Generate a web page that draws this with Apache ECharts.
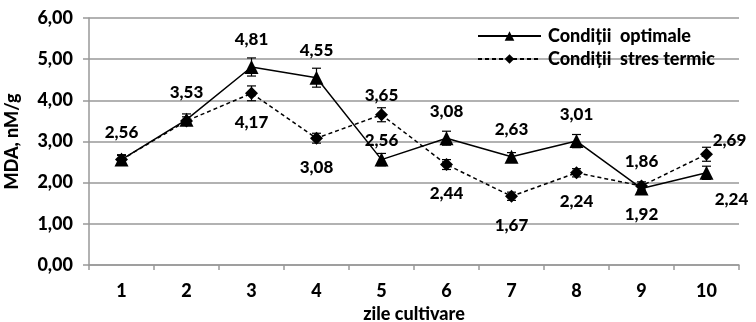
<!DOCTYPE html>
<html>
<head>
<meta charset="utf-8">
<script src="https://cdn.jsdelivr.net/npm/echarts@6/dist/echarts.min.js"></script>
<style>html,body{margin:0;padding:0;background:#fff}#c{width:756px;height:322px}</style>
</head>
<body>
<div id="c"></div>
<script>
// ---- data ----
const categories = ['1','2','3','4','5','6','7','8','9','10'];
const optimal = [2.56, 3.53, 4.81, 4.55, 2.56, 3.08, 2.63, 3.01, 1.86, 2.24];
const stress  = [2.56, 3.50, 4.17, 3.08, 3.65, 2.44, 1.67, 2.24, 1.92, 2.69];
const optimalErr = [0.12, 0.14, 0.22, 0.23, 0.15, 0.17, 0.10, 0.16, 0.10, 0.16];
const stressErr  = [0.10, 0.10, 0.18, 0.12, 0.17, 0.12, 0.10, 0.10, 0.10, 0.17];
const yTicks = [0, 1, 2, 3, 4, 5, 6];
const seriesNames = ['Condiții  optimale', 'Condiții  stres termic'];

// ---- label placement (style, separate from values) ----
const optLabelPlace = ['up','up','up','up','upNear','up','up','up','up','rightDown'];
const stressLabelPlace = ['none','none','down','down','upNear','down','down','down','down','rightUp'];
const placeOffsets = {
  up: [0, -27], upNear: [0, -19], down: [0, 29],
  rightDown: [25, 27], rightUp: [23, -14]
};

const FONT = 'Lato';
const W = 900;
const fmt = v => v.toFixed(2).replace('.', ',');

function buildLine(values, places) {
  return values.map((v, i) => {
    const p = places[i];
    if (p === 'none') return { value: v, label: { show: false } };
    return { value: v, label: { show: true, position: 'inside', offset: placeOffsets[p] } };
  });
}

function errData(values, errs) {
  return values.map((v, i) => [i, v, errs[i]]);
}

function errRender(params, api) {
  const x = api.value(0), v = api.value(1), e = api.value(2);
  const hi = api.coord([x, v + e]);
  const lo = api.coord([x, v - e]);
  const hw = 4.5;
  const st = { stroke: '#000', lineWidth: 1.2 };
  return {
    type: 'group',
    children: [
      { type: 'line', shape: { x1: hi[0], y1: hi[1], x2: lo[0], y2: lo[1] }, style: st },
      { type: 'line', shape: { x1: hi[0] - hw, y1: hi[1], x2: hi[0] + hw, y2: hi[1] }, style: st },
      { type: 'line', shape: { x1: lo[0] - hw, y1: lo[1], x2: lo[0] + hw, y2: lo[1] }, style: st }
    ]
  };
}

const chart = echarts.init(document.getElementById('c'), null, { renderer: 'canvas' });
const labelStyle = {
  color: '#000', fontFamily: FONT, fontWeight: W, fontSize: 17,
  formatter: p => fmt(p.value)
};
chart.setOption({
  animation: false,
  backgroundColor: '#fff',
  grid: { left: 89, right: 17, top: 18, bottom: 57, containLabel: false, outerBoundsMode: 'none' },
  legend: {
    orient: 'vertical', left: 472, top: 22, itemWidth: 63, itemHeight: 12, itemGap: 5,
    textStyle: { fontFamily: FONT, fontWeight: W, fontSize: 18, color: '#000', padding: [0, 0, 0, 2] },
    data: seriesNames
  },
  xAxis: {
    type: 'category', data: categories, boundaryGap: true,
    name: 'zile cultivare', nameLocation: 'middle', nameGap: 38,
    nameTextStyle: { fontFamily: FONT, fontWeight: W, fontSize: 18, color: '#000' },
    axisLine: { lineStyle: { color: '#999', width: 1.5 } },
    axisTick: { show: true, alignWithLabel: false, length: 5, lineStyle: { color: '#999', width: 1.5 } },
    axisLabel: { fontFamily: FONT, fontWeight: W, fontSize: 18, color: '#000', margin: 17 },
    splitLine: { show: false }
  },
  yAxis: {
    type: 'value', min: yTicks[0], max: yTicks[yTicks.length - 1], interval: 1,
    name: 'MDA, nM/g', nameLocation: 'middle', nameGap: 68, nameRotate: 90,
    nameTextStyle: { fontFamily: FONT, fontWeight: W, fontSize: 18, color: '#000' },
    axisLine: { show: true, lineStyle: { color: '#999', width: 1.5 } },
    axisTick: { show: true, length: 6, lineStyle: { color: '#999', width: 1.5 } },
    axisLabel: { fontFamily: FONT, fontWeight: W, fontSize: 18, color: '#000', margin: 16, formatter: v => fmt(v) },
    splitLine: { show: true, lineStyle: { color: '#999', width: 1.5 } }
  },
  series: [
    {
      name: seriesNames[0], type: 'line', data: buildLine(optimal, optLabelPlace),
      symbol: 'triangle', symbolSize: 14, z: 4,
      lineStyle: { color: '#000', width: 1.5, type: 'solid' },
      itemStyle: { color: '#000' },
      label: labelStyle
    },
    {
      name: seriesNames[1], type: 'line', data: buildLine(stress, stressLabelPlace),
      symbol: 'diamond', symbolSize: 13, z: 3,
      lineStyle: { color: '#000', width: 1.5, type: [4, 3] },
      itemStyle: { color: '#000' },
      label: labelStyle
    },
    {
      type: 'custom', coordinateSystem: 'cartesian2d', renderItem: errRender,
      data: errData(optimal, optimalErr), encode: { x: 0, y: 1 }, z: 5, silent: true
    },
    {
      type: 'custom', coordinateSystem: 'cartesian2d', renderItem: errRender,
      data: errData(stress, stressErr), encode: { x: 0, y: 1 }, z: 5, silent: true
    }
  ]
});
</script>
</body>
</html>
